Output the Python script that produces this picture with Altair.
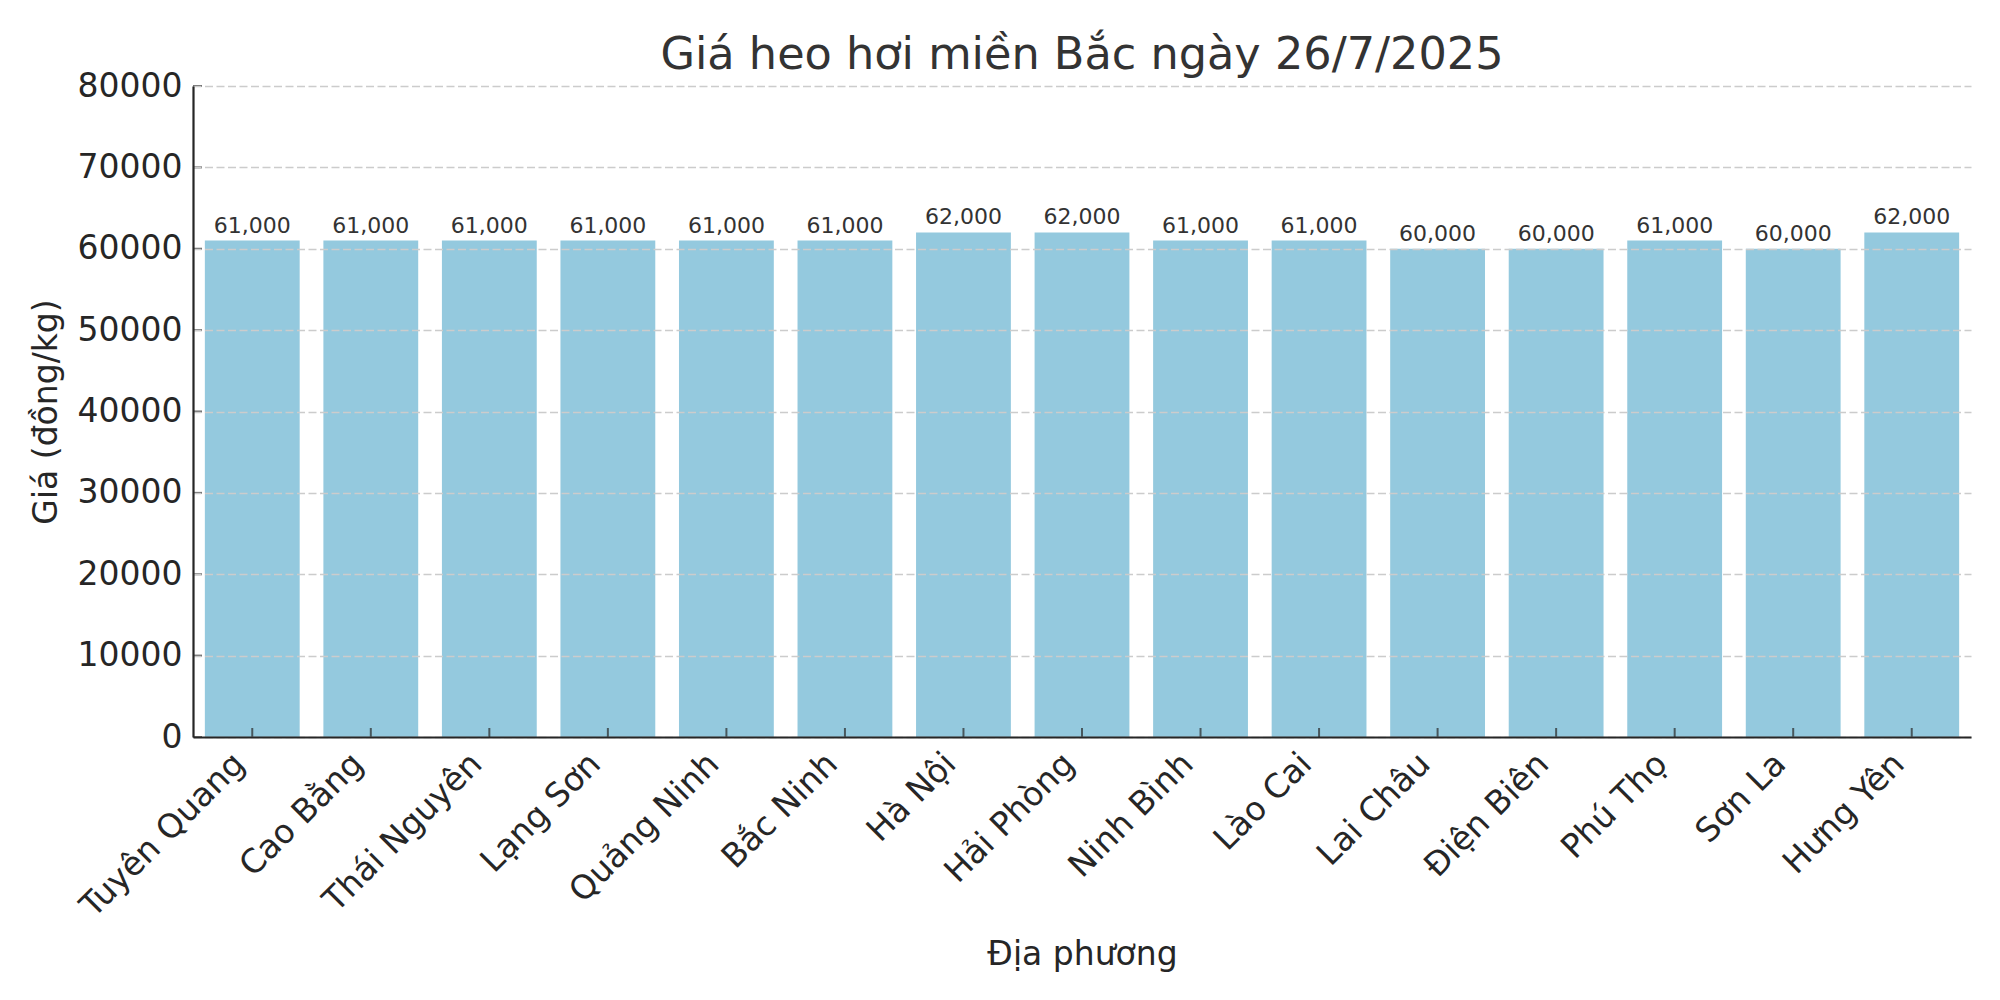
import altair as alt
import pandas as pd

provinces = ["Tuyên Quang", "Cao Bằng", "Thái Nguyên", "Lạng Sơn", "Quảng Ninh",
             "Bắc Ninh", "Hà Nội", "Hải Phòng", "Ninh Bình", "Lào Cai",
             "Lai Châu", "Điện Biên", "Phú Thọ", "Sơn La", "Hưng Yên"]
prices = [61000, 61000, 61000, 61000, 61000, 61000, 62000, 62000, 61000, 61000,
          60000, 60000, 61000, 60000, 62000]
y_ticks = [0, 10000, 20000, 30000, 40000, 50000, 60000, 70000, 80000]

df = pd.DataFrame({"province": provinces, "price": prices})
df_ticks = pd.DataFrame({"v": y_ticks})

FONT = "DejaVu Sans"
BAR = "#94c9de"

x_enc = alt.X("province:N", sort=None, title="Địa phương",
              scale=alt.Scale(paddingInner=0.2, paddingOuter=0.1),
              axis=alt.Axis(labelAngle=-45, labelAlign="right", labelBaseline="top",
                            labelFontSize=33, labelFont=FONT, labelColor="#262626",
                            labelPadding=10, labelOffset=-24, labelLimit=600,
                            ticks=False, domainColor="#262626",
                            domainWidth=2.2, titleFont=FONT, titleFontSize=33,
                            titleFontWeight="normal", titleColor="#262626",
                            titleBaseline="alphabetic", titleY=227, grid=False,
                            labelOverlap=False, zindex=2))
y_enc = alt.Y("price:Q", title="Giá (đồng/kg)",
              scale=alt.Scale(domain=[0, 80000], nice=False),
              axis=alt.Axis(values=y_ticks, format="d", labelFontSize=33, labelFont=FONT,
                            labelColor="#262626", labelPadding=11, ticks=False,
                            domainColor="#262626", domainWidth=2.2, grid=True,
                            gridColor="#cccccc", gridDash=[8, 3.5], gridWidth=1.3,
                            titleFont=FONT, titleFontSize=33, titleFontWeight="normal",
                            titleColor="#262626", titleBaseline="alphabetic",
                            titleX=-137, titleAngle=-90, zindex=1))

bars = alt.Chart(df).mark_bar(color=BAR).encode(x=x_enc, y=y_enc)

labels = alt.Chart(df).mark_text(font=FONT, fontSize=22, color="#333333",
                                 baseline="alphabetic", dy=-8).encode(
    x=alt.X("province:N", sort=None),
    y="price:Q",
    text=alt.Text("price:Q", format=","),
)

xticks = alt.Chart(df).mark_tick(orient="vertical", size=9, thickness=2,
                                 color="#262626", yOffset=-4.5).encode(
    x=alt.X("province:N", sort=None),
    y=alt.datum(0),
)

yticks = alt.Chart(df_ticks).mark_tick(orient="horizontal", size=9, thickness=2,
                                       color="#262626", xOffset=4.5).encode(
    x=alt.value(0),
    y=alt.Y("v:Q"),
)

chart = alt.layer(bars, labels, xticks, yticks).properties(
    width=1778, height=651,
    background="white",
    title=alt.Title("Giá heo hơi miền Bắc ngày 26/7/2025", font=FONT, fontSize=44.6,
                    fontWeight="normal", color="#333333", anchor="middle",
                    baseline="alphabetic", offset=15, dy=59),
    padding={"left": 185, "top": 78, "right": 21, "bottom": 255},
    autosize=alt.AutoSizeParams(type="none"),
).configure_view(strokeWidth=0, stroke="transparent")

chart.save("out.html", embed_options={"renderer": "svg", "actions": False})
